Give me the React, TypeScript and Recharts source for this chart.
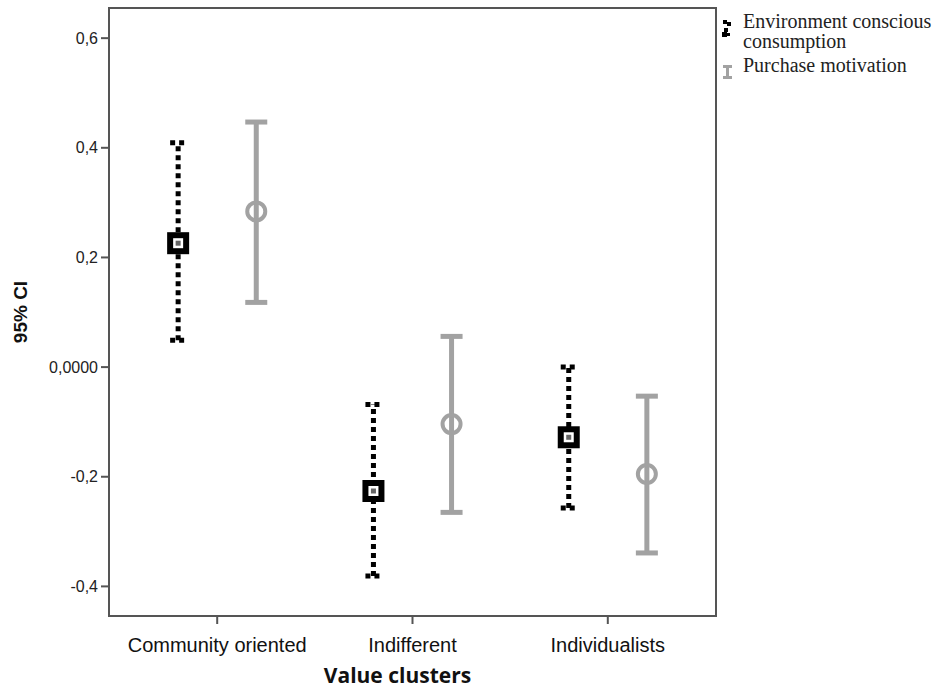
import React from 'react';
import { ComposedChart, Scatter, ErrorBar, XAxis, YAxis, ReferenceArea, Legend } from 'recharts';

const categories = ['Community oriented', 'Indifferent', 'Individualists'];
const seriesNames = ['Environment conscious consumption', 'Purchase motivation'];
const envMean = [0.226, -0.226, -0.128];
const envLow = [0.049, -0.381, -0.257];
const envHigh = [0.409, -0.068, 0.0];
const pmMean = [0.284, -0.104, -0.195];
const pmLow = [0.118, -0.265, -0.339];
const pmHigh = [0.447, 0.056, -0.053];
const yTicks = [-0.4, -0.2, 0, 0.2, 0.4, 0.6];
const yTickLabels = ['-0,4', '-0,2', '0,0000', '0,2', '0,4', '0,6'];

const OFFSET = 0.2;
const X_DOMAIN: [number, number] = [-0.554, 2.554];
const Y_DOMAIN: [number, number] = [-0.454, 0.655];

const envData = categories.map((c, i) => ({
  name: c,
  x: i - OFFSET,
  mean: envMean[i],
  err: [envMean[i] - envLow[i], envHigh[i] - envMean[i]],
}));
const pmData = categories.map((c, i) => ({
  name: c,
  x: i + OFFSET,
  mean: pmMean[i],
  err: [pmMean[i] - pmLow[i], pmHigh[i] - pmMean[i]],
}));

const GRAY = '#a2a2a2';
const AXIS = '#555';

const SquareMarker = (props: any) => {
  const { cx, cy } = props;
  if (cx == null || cy == null) return null;
  return (
    <g>
      <rect x={cx - 11} y={cy - 11} width={22} height={22} fill="#000" />
      <rect x={cx - 5} y={cy - 5} width={10} height={10} fill="#fff" />
      <rect x={cx - 2.5} y={cy - 2.5} width={5} height={5} fill="#666" />
    </g>
  );
};

const RingMarker = (props: any) => {
  const { cx, cy } = props;
  if (cx == null || cy == null) return null;
  return <circle cx={cx} cy={cy} r={9} fill="none" stroke={GRAY} strokeWidth={4} />;
};

const LegendContent = () => (
  <div style={{ position: 'relative', fontFamily: '"Liberation Serif", "Times New Roman", serif', fontSize: 20, lineHeight: '20px', color: '#222', width: 230 }}>
    <svg width={20} height={80} style={{ position: 'absolute', left: 0, top: 0 }}>
      <rect x={8} y={9} width={4} height={4} fill="#000" />
      <rect x={12} y={11} width={4} height={4} fill="#000" />
      <rect x={9} y={17} width={4} height={4} fill="#000" />
      <rect x={7} y={21} width={5} height={5} fill="#000" />
      <rect x={12} y={22} width={3} height={3} fill="#000" />
      <rect x={8} y={54} width={9} height={3} fill={GRAY} />
      <rect x={11} y={54} width={3} height={13} fill={GRAY} />
      <rect x={8} y={65} width={9} height={3} fill={GRAY} />
    </svg>
    <div style={{ paddingLeft: 28 }}>
      <div>Environment conscious</div>
      <div>consumption</div>
      <div style={{ marginTop: 4 }}>{seriesNames[1]}</div>
    </div>
  </div>
);

const YLabel = (props: any) => {
  const { viewBox } = props;
  const x = viewBox.x + 27;
  const y = viewBox.y + viewBox.height / 2;
  return (
    <text x={x} y={y} transform={`rotate(-90, ${x}, ${y})`} textAnchor="middle" fontFamily="Liberation Sans, Arial, sans-serif" fontWeight="bold" fontSize={19} fill="#111">
      95% CI
    </text>
  );
};

const XLabel = (props: any) => {
  const { viewBox } = props;
  const x = viewBox.x + viewBox.width / 2 - 15;
  const y = viewBox.y + viewBox.height - 6;
  return (
    <text x={x} y={y} textAnchor="middle" fontFamily='"Open Sans", sans-serif' fontWeight="bold" fontSize={21} fill="#111">
      Value clusters
    </text>
  );
};

export default function App() {
  return (
    <div style={{ position: 'absolute', left: 0, top: 0, background: '#fff' }}>
      <ComposedChart width={945} height={689} margin={{ top: 8, right: 229, bottom: 0, left: 0 }}>
        <XAxis
          type="number"
          dataKey="x"
          domain={X_DOMAIN}
          allowDataOverflow
          ticks={[0, 1, 2]}
          tickFormatter={(v: number) => categories[v]}
          height={73}
          tickSize={8}
          tickMargin={14}
          stroke={AXIS}
          strokeWidth={2}
          tick={{ fill: '#111', fontSize: 20, fontFamily: 'Liberation Sans, Arial, sans-serif' }}
          tickLine={{ stroke: AXIS, strokeWidth: 2 }}
          label={<XLabel />}
        />
        <YAxis
          type="number"
          dataKey="mean"
          domain={Y_DOMAIN}
          allowDataOverflow
          ticks={yTicks}
          tickFormatter={(v: number) => yTickLabels[yTicks.indexOf(v)]}
          width={109}
          tickSize={8}
          tickMargin={3}
          stroke={AXIS}
          strokeWidth={2}
          tick={{ fill: '#222', fontSize: 16, fontFamily: 'Liberation Sans, Arial, sans-serif' }}
          tickLine={{ stroke: AXIS, strokeWidth: 2 }}
          label={<YLabel />}
        />
        <ReferenceArea x1={X_DOMAIN[0]} x2={X_DOMAIN[1]} y1={Y_DOMAIN[0]} y2={Y_DOMAIN[1]} fill="none" stroke={AXIS} strokeWidth={2} fillOpacity={0} ifOverflow="visible" />
        <Scatter name={seriesNames[0]} data={envData} dataKey="mean" shape={<SquareMarker />} isAnimationActive={false}>
          <ErrorBar dataKey="err" direction="y" width={8} stroke="#000" strokeWidth={5} strokeDasharray="5 4" isAnimationActive={false} />
        </Scatter>
        <Scatter name={seriesNames[1]} data={pmData} dataKey="mean" shape={<RingMarker />} isAnimationActive={false}>
          <ErrorBar dataKey="err" direction="y" width={11} stroke={GRAY} strokeWidth={5} isAnimationActive={false} />
        </Scatter>
        <Legend
          layout="vertical"
          align="center"
          verticalAlign="middle"
          content={<LegendContent />}
          wrapperStyle={{ left: 715, top: 11, width: 230, right: 'auto', bottom: 'auto' }}
        />
      </ComposedChart>
    </div>
  );
}
